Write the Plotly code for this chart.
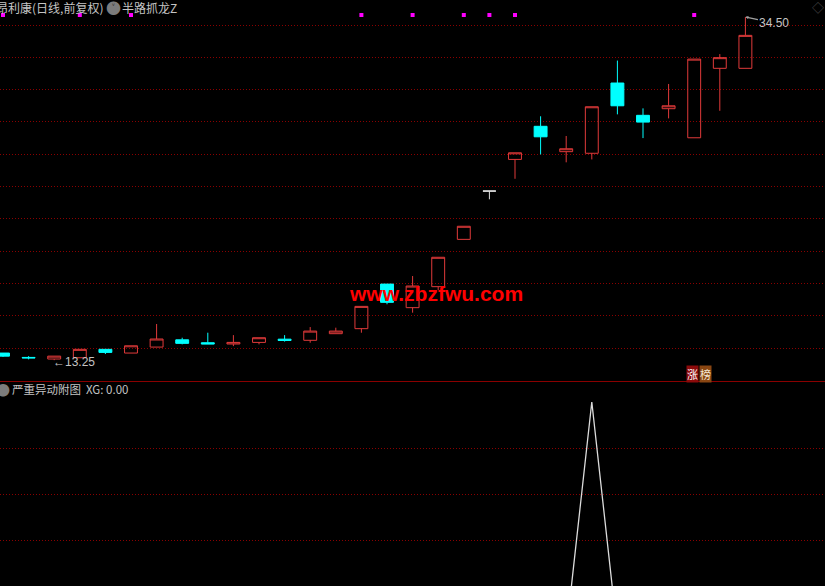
import plotly.graph_objects as go

# ---------------- data ----------------
idx = list(range(30))
opens = [13.69, 13.42, 13.32, 13.40, 13.92, 13.69, 14.06, 14.51, 14.33, 14.25,
         14.35, 14.55, 14.48, 14.89, 15.20, 17.96, 16.50, 17.80, 20.73, 23.72,
         25.68, 27.73, 26.16, 26.06, 30.41, 28.41, 28.82, 27.02, 31.32, 31.32]
closes = [13.50, 13.39, 13.50, 13.92, 13.73, 14.14, 14.56, 14.29, 14.25, 14.35,
          14.64, 14.47, 15.05, 15.05, 16.58, 16.83, 17.84, 19.62, 21.54, 23.72,
          26.09, 27.08, 26.34, 28.94, 29.00, 27.99, 29.00, 31.89, 31.98, 33.36]
highs = [13.69, 13.50, 13.50, 13.92, 13.92, 14.14, 15.49, 14.64, 14.95, 14.80,
         14.64, 14.80, 15.30, 15.26, 16.58, 17.96, 18.46, 19.62, 21.54, 23.72,
         26.09, 28.35, 27.13, 28.94, 31.80, 28.84, 30.35, 31.89, 32.20, 34.50]
lows = [13.45, 13.30, 13.25, 13.40, 13.63, 13.69, 14.06, 14.23, 14.25, 14.12,
        14.23, 14.40, 14.33, 14.89, 14.95, 16.71, 16.19, 17.59, 20.73, 23.21,
        24.48, 25.99, 25.50, 25.68, 28.47, 27.00, 28.22, 27.02, 28.69, 31.32]
signal_idx = [0, 3, 5, 14, 16, 18, 19, 20, 27]
xg = [0, 0, 0, 0, 0, 0, 0, 0, 0, 0,
      0, 0, 0, 0, 0, 0, 0, 0, 0, 0,
      0, 0, 0, 1, 0, 0, 0, 0, 0, 0]
price_grid = [14, 16, 18, 20, 22, 24, 26, 28, 30, 32, 34]
xg_grid = [0.4, 0.6, 0.8]

title_main = "昂利康(日线,前复权)"
title_ind = "半路抓龙Z"
title_sub = "严重异动附图"
xg_label = "XG: 0.00"
badge = ["涨", "榜"]
watermark = "www.zbzfwu.com"

# ---------------- styling ----------------
W, H = 825, 586
TOP_BOTTOM_PX = 381
CJK = "Noto Sans CJK SC, Noto Sans, sans-serif"
TXT = "#c4c4c4"
UP = "#e03a3a"
DOWN = "#00ffff"
GRID = "#8a0000"
GRID_DASH = "1px,2px"

main_i = [i for i in idx if opens[i] != closes[i]]
flat_i = [i for i in idx if opens[i] == closes[i]]

fig = go.Figure()
fig.add_trace(go.Candlestick(
    x=main_i,
    open=[opens[i] for i in main_i], high=[highs[i] for i in main_i],
    low=[lows[i] for i in main_i], close=[closes[i] for i in main_i],
    increasing=dict(line=dict(color=UP, width=1), fillcolor="rgba(0,0,0,0)"),
    decreasing=dict(line=dict(color=DOWN, width=1), fillcolor=DOWN),
    whiskerwidth=0, xaxis="x", yaxis="y", showlegend=False, hoverinfo="skip"))
fig.add_trace(go.Candlestick(
    x=flat_i,
    open=[opens[i] for i in flat_i], high=[highs[i] for i in flat_i],
    low=[lows[i] for i in flat_i], close=[closes[i] for i in flat_i],
    increasing=dict(line=dict(color="#e0e0e0", width=1), fillcolor="#e0e0e0"),
    decreasing=dict(line=dict(color="#e0e0e0", width=1), fillcolor="#e0e0e0"),
    whiskerwidth=0, xaxis="x", yaxis="y", showlegend=False, hoverinfo="skip"))

sig_level = 1 - 15 / TOP_BOTTOM_PX
fig.add_trace(go.Scatter(
    x=signal_idx, y=[sig_level] * len(signal_idx), mode="markers",
    marker=dict(symbol="square", size=4, color="#ff00ff", line=dict(width=0)),
    xaxis="x", yaxis="y3", showlegend=False, hoverinfo="skip"))

fig.add_trace(go.Scatter(
    x=idx, y=xg, mode="lines", line=dict(color="#dcdcdc", width=1.3),
    xaxis="x2", yaxis="y2", showlegend=False, hoverinfo="skip"))

x_lo = -3 / 25.6
x_hi = x_lo + W / 25.6
top_dom0 = 1 - TOP_BOTTOM_PX / H
bot_dom1 = 1 - (TOP_BOTTOM_PX + 2) / H

fig.update_layout(
    width=W, height=H, margin=dict(l=0, r=0, t=0, b=0),
    paper_bgcolor="black", plot_bgcolor="black", boxgap=0.28,
    showlegend=False, hovermode=False,
    xaxis=dict(domain=[0, 1], range=[x_lo, x_hi], anchor="y",
               showgrid=False, zeroline=False, showticklabels=False, ticks="",
               showline=True, linecolor="#8a0000", linewidth=1,
               rangeslider=dict(visible=False)),
    yaxis=dict(domain=[top_dom0, 1], range=[11.96, 35.55], anchor="x",
               tickvals=price_grid, showticklabels=False, ticks="",
               showgrid=True, gridcolor=GRID, griddash=GRID_DASH, gridwidth=1,
               zeroline=False),
    yaxis3=dict(overlaying="y", range=[0, 1], visible=False, anchor="x"),
    xaxis2=dict(domain=[0, 1], range=[x_lo, x_hi], anchor="y2",
                showgrid=False, zeroline=False, showticklabels=False, ticks=""),
    yaxis2=dict(domain=[0, bot_dom1], range=[0.204, 1.082], anchor="x2",
                tickvals=xg_grid, showticklabels=False, ticks="",
                showgrid=True, gridcolor=GRID, griddash=GRID_DASH, gridwidth=1,
                zeroline=False),
)

ann = []
def ptext(px, py, text, size=12, color=TXT, xanchor="left", **kw):
    ann.append(dict(xref="paper", yref="paper", x=px / W, y=1 - py / H,
                    text=text, showarrow=False, xanchor=xanchor,
                    yanchor="middle", font=dict(family=CJK, size=size, color=color), **kw))

ptext(-6, 7.5, title_main, size=12)
ptext(113, 7.5, "●", size=15, color="#7c7c7c", xanchor="center")
ptext(113, 7.5, "˅", size=10, color="#1a1a1a", xanchor="center")
ptext(120, 7.5, title_ind, size=12)
ptext(818, 8, "◇", size=12, color="#4a4a4a", xanchor="center")
ptext(3, 389, "●", size=14, color="#7c7c7c", xanchor="center")
ptext(10, 389, title_sub, size=11.5)
ptext(84, 389, xg_label, size=11.5)

# badge
ann.append(dict(xref="x", yref="paper", x=27, xshift=5, y=1 - 373.5 / H,
                text=badge[0], showarrow=False, xanchor="right", yanchor="middle",
                bgcolor="#8c0a0a", borderpad=0,
                font=dict(family=CJK, size=11, color="#ffffff")))
ann.append(dict(xref="x", yref="paper", x=27, xshift=5, y=1 - 373.5 / H,
                text=badge[1], showarrow=False, xanchor="left", yanchor="middle",
                bgcolor="#8a4612", borderpad=0,
                font=dict(family=CJK, size=11, color="#f4e6d0")))

# high / low labels
hi_i = max(idx, key=lambda i: highs[i])
lo_i = min(idx, key=lambda i: lows[i])
ann.append(dict(xref="x", yref="y", x=hi_i, y=highs[hi_i], text=f"{highs[hi_i]:.2f}",
                showarrow=True, ax=29, ay=6, arrowhead=2, arrowsize=0.5,
                arrowwidth=1.2, arrowcolor="#a0a0a0", standoff=0,
                font=dict(family="Liberation Sans, Arial", size=12, color=TXT)))
ann.append(dict(xref="x", yref="y", x=lo_i, y=lows[lo_i], text=f"←{lows[lo_i]:.2f}",
                showarrow=False, xanchor="left", yanchor="middle", xshift=-3, yshift=-2,
                font=dict(family="Liberation Sans, Arial", size=12, color=TXT)))

# watermark
ann.append(dict(xref="paper", yref="paper", x=436 / W, y=1 - 293 / H, text=f"<b>{watermark}</b>",
                showarrow=False, xanchor="center", yanchor="middle",
                font=dict(family="Liberation Sans, Arial", size=21, color="#ff0000")))

fig.update_layout(annotations=ann)
fig.write_html("out.html", config={"displayModeBar": False, "staticPlot": True},
               post_script="document.body.style.margin='0';document.body.style.padding='0';"
                           "document.body.style.background='black';")
